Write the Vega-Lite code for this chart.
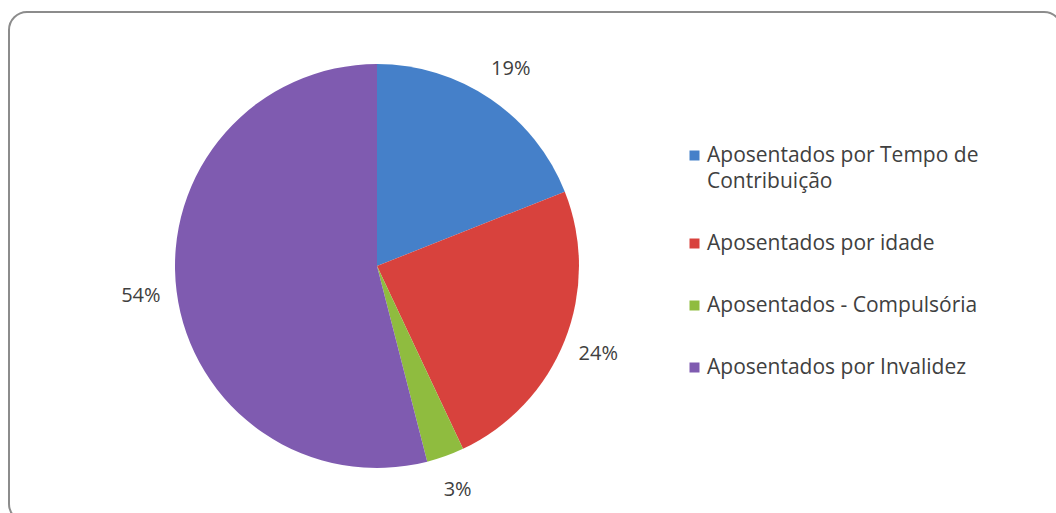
{
  "$schema": "https://vega.github.io/schema/vega-lite/v6.json",
  "width": 1053,
  "height": 510,
  "autosize": {"type": "none"},
  "padding": {"left": 9, "top": 12, "right": 0, "bottom": 0},
  "background": "white",
  "config": {
    "view": {"stroke": null},
    "font": "Open Sans"
  },
  "data": {
    "values": [
      {"categoria": "Aposentados por Tempo de Contribuição", "pct": 0.19, "ordem": 1},
      {"categoria": "Aposentados por idade", "pct": 0.24, "ordem": 2},
      {"categoria": "Aposentados - Compulsória", "pct": 0.03, "ordem": 3},
      {"categoria": "Aposentados por Invalidez", "pct": 0.54, "ordem": 4}
    ]
  },
  "layer": [
    {
      "data": {"values": [{"moldura": 1}]},
      "mark": {"type": "rect", "x": 0, "y": 0, "x2": {"expr": "width"}, "y2": {"expr": "height"}, "cornerRadius": 18, "fill": "white", "stroke": "#8c8c8c", "strokeWidth": 2},
      "encoding": {}
    },
    {
      "mark": {"type": "arc", "x": 368, "y": 254, "outerRadius": 202},
      "encoding": {
        "theta": {"field": "pct", "type": "quantitative", "stack": true},
        "order": {"field": "ordem", "type": "ordinal"},
        "color": {
          "field": "categoria",
          "type": "nominal",
          "scale": {
            "domain": ["Aposentados por Tempo de Contribuição", "Aposentados por idade", "Aposentados - Compulsória", "Aposentados por Invalidez"],
            "range": ["#4580c9", "#d8423d", "#8fbc3f", "#7f5bb0"]
          },
          "legend": {
            "title": null,
            "orient": "none",
            "legendX": 675,
            "legendY": 133,
            "symbolType": "square",
            "symbolSize": 100,
            "symbolStrokeWidth": 0,
            "labelFont": "Open Sans",
            "labelFontSize": 21,
            "labelColor": "#404040",
            "labelLimit": 400,
            "labelOffset": 2,
            "rowPadding": 40,
            "labelExpr": "datum.label == 'Aposentados por Tempo de Contribuição' ? ['Aposentados por Tempo de', 'Contribuição'] : datum.label",
            "encode": {"labels": {"update": {"lineHeight": {"value": 26}}}}
          }
        }
      }
    },
    {
      "mark": {"type": "text", "x": 368, "y": 254, "radius": 238, "fontSize": 20, "font": "Open Sans", "color": "#404040", "align": "center", "baseline": "middle"},
      "encoding": {
        "theta": {"field": "pct", "type": "quantitative", "stack": true},
        "order": {"field": "ordem", "type": "ordinal"},
        "text": {"field": "pct", "type": "quantitative", "format": ".0%"},
        "detail": {"field": "categoria"}
      }
    }
  ]
}
